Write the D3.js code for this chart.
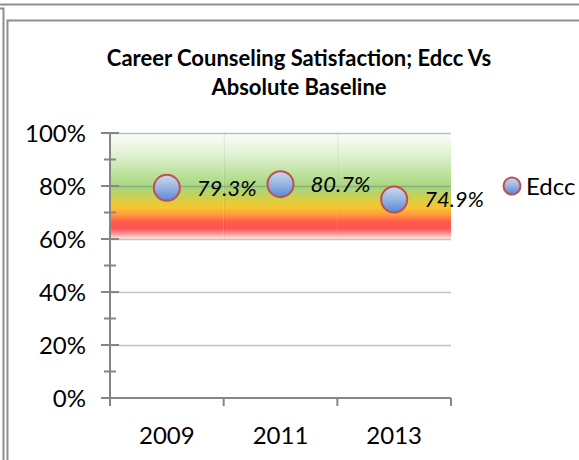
<!DOCTYPE html>
<html>
<head>
<meta charset="utf-8">
<script src="https://cdn.jsdelivr.net/npm/d3@7/dist/d3.min.js"></script>
<style>
  html, body { margin: 0; padding: 0; background: #fff; }
  svg { display: block; }
  text { font-family: Lato, "Liberation Sans", sans-serif; fill: #000; }
</style>
</head>
<body>
<svg id="chart" width="579" height="460"></svg>
<script>
// Survey years and Edcc satisfaction share
const years = ["2009", "2011", "2013"];
const edcc = [0.793, 0.807, 0.749];
const valueLabels = ["79.3%", "80.7%", "74.9%"];
// Absolute baseline band (floor and ceiling per year)
const baselineFloor = [0.6, 0.6, 0.6];
const baselineCeil = [1.0, 1.0, 1.0];
const yTicks = [0, 0.2, 0.4, 0.6, 0.8, 1.0];
const titleLines = ["Career Counseling Satisfaction; Edcc Vs", "Absolute Baseline"];
const seriesName = "Edcc";

const svg = d3.select("#chart");
const W = 579, H = 460;
const plot = { left: 110, right: 451, top: 133, bottom: 398 };

// Frames
const frame = svg.append("g").attr("fill", "none").attr("stroke", "#8e8e8e").attr("stroke-width", 2);
frame.append("line").attr("x1", 0).attr("x2", W).attr("y1", 4.5).attr("y2", 4.5);
frame.append("path").attr("d", `M0,8.5 H3.5 V${H}`);
frame.append("path").attr("d", `M${W},20.5 H7.5 V${H}`);

// Title
const title = svg.append("text").attr("text-anchor", "middle")
  .attr("font-weight", "bold").attr("font-size", 22);
titleLines.forEach((t, i) => {
  title.append("tspan").attr("x", 299).attr("y", 66 + i * 29).text(t);
});

const x = d3.scaleBand().domain(years).range([plot.left, plot.right]).padding(0);
const y = d3.scaleLinear().domain([0, 1]).range([plot.bottom, plot.top]);

// Baseline gradient: green on top through yellow and orange to red at the floor
const defs = svg.append("defs");
const grad = defs.append("linearGradient").attr("id", "baseline")
  .attr("x1", 0).attr("y1", 0).attr("x2", 0).attr("y2", 1);
[
  [0.00, "#fbfdf8"],
  [0.20, "#e2f2d4"],
  [0.42, "#b6de92"],
  [0.52, "#a6d67c"],
  [0.62, "#d2cf4a"],
  [0.70, "#f8c62e"],
  [0.77, "#ff9c3c"],
  [0.84, "#ff5a4c"],
  [0.90, "#ff5252"],
  [0.96, "#ffa4a4"],
  [1.00, "#fff0f0"]
].forEach(([o, c]) => grad.append("stop").attr("offset", o).attr("stop-color", c));

const bubble = defs.append("linearGradient").attr("id", "bubble")
  .attr("x1", 0).attr("y1", 0).attr("x2", 0).attr("y2", 1);
bubble.append("stop").attr("offset", 0).attr("stop-color", "#cdd9ee");
bubble.append("stop").attr("offset", 0.5).attr("stop-color", "#97b4e2");
bubble.append("stop").attr("offset", 1).attr("stop-color", "#5489d8");

// Band columns
svg.append("g").selectAll("rect").data(years).join("rect")
  .attr("x", d => x(d))
  .attr("width", x.bandwidth())
  .attr("y", (d, i) => y(baselineCeil[i]))
  .attr("height", (d, i) => y(baselineFloor[i]) - y(baselineCeil[i]))
  .attr("fill", "url(#baseline)");

// Column seams
svg.append("g").selectAll("line").data(years.slice(1)).join("line")
  .attr("x1", d => x(d) + 0.5).attr("x2", d => x(d) + 0.5)
  .attr("y1", y(1)).attr("y2", y(0.6))
  .attr("stroke", "rgba(0,0,0,0.08)").attr("stroke-width", 1);

// Horizontal gridlines
svg.append("g").selectAll("line").data(yTicks.filter(v => v > 0)).join("line")
  .attr("x1", plot.left).attr("x2", plot.right)
  .attr("y1", d => Math.round(y(d)) + 0.5).attr("y2", d => Math.round(y(d)) + 0.5)
  .attr("stroke", "rgba(120,120,120,0.45)").attr("stroke-width", 1.5);

// Y axis
const yAxis = svg.append("g").attr("transform", `translate(${plot.left},0)`)
  .call(d3.axisLeft(y).tickValues(yTicks).tickFormat(d3.format(".0%")).tickSize(0).tickPadding(24));
yAxis.select(".domain").remove();
yAxis.selectAll("text").attr("font-size", 24).attr("font-family", "Lato").attr("fill", "#000").attr("dy", "0.36em");
// axis line and cross ticks
const axisStroke = "#868686";
svg.append("line").attr("x1", plot.left).attr("x2", plot.left)
  .attr("y1", plot.top).attr("y2", plot.bottom + 8)
  .attr("stroke", axisStroke).attr("stroke-width", 2);
const minor = d3.range(0, 1.0001, 0.1);
svg.append("g").selectAll("line").data(minor).join("line")
  .attr("x1", (d, i) => i % 2 === 0 ? plot.left - 9 : plot.left - 6)
  .attr("x2", (d, i) => i % 2 === 0 ? plot.left + 9 : plot.left + 6)
  .attr("y1", d => y(d)).attr("y2", d => y(d))
  .attr("stroke", axisStroke).attr("stroke-width", 2);

// X axis
svg.append("line").attr("x1", plot.left).attr("x2", plot.right)
  .attr("y1", plot.bottom).attr("y2", plot.bottom)
  .attr("stroke", axisStroke).attr("stroke-width", 2);
svg.append("g").selectAll("line").data(years.slice(1).map(d => x(d)).concat([plot.right])).join("line")
  .attr("x1", d => d).attr("x2", d => d)
  .attr("y1", plot.bottom).attr("y2", plot.bottom + 8)
  .attr("stroke", axisStroke).attr("stroke-width", 2);
svg.append("g").selectAll("text").data(years).join("text")
  .attr("x", d => x(d) + x.bandwidth() / 2)
  .attr("y", plot.bottom + 46)
  .attr("text-anchor", "middle").attr("font-size", 24)
  .text(d => d);

// Markers
const cx = d => x(d) + x.bandwidth() / 2;
svg.append("g").selectAll("circle").data(years).join("circle")
  .attr("cx", cx).attr("cy", (d, i) => y(edcc[i])).attr("r", 13)
  .attr("fill", "url(#bubble)").attr("stroke", "#c0504d").attr("stroke-width", 2);

// Value labels
svg.append("g").selectAll("text").data(years).join("text")
  .attr("x", d => cx(d) + 30).attr("y", (d, i) => y(edcc[i]))
  .attr("dy", "0.36em").attr("font-size", 22).attr("font-style", "italic")
  .text((d, i) => valueLabels[i]);

// Legend
svg.append("circle").attr("cx", 512).attr("cy", 186).attr("r", 8.5)
  .attr("fill", "url(#bubble)").attr("stroke", "#c0504d").attr("stroke-width", 2);
svg.append("text").attr("x", 526).attr("y", 186).attr("dy", "0.36em")
  .attr("font-size", 24).text(seriesName);
</script>
</body>
</html>
